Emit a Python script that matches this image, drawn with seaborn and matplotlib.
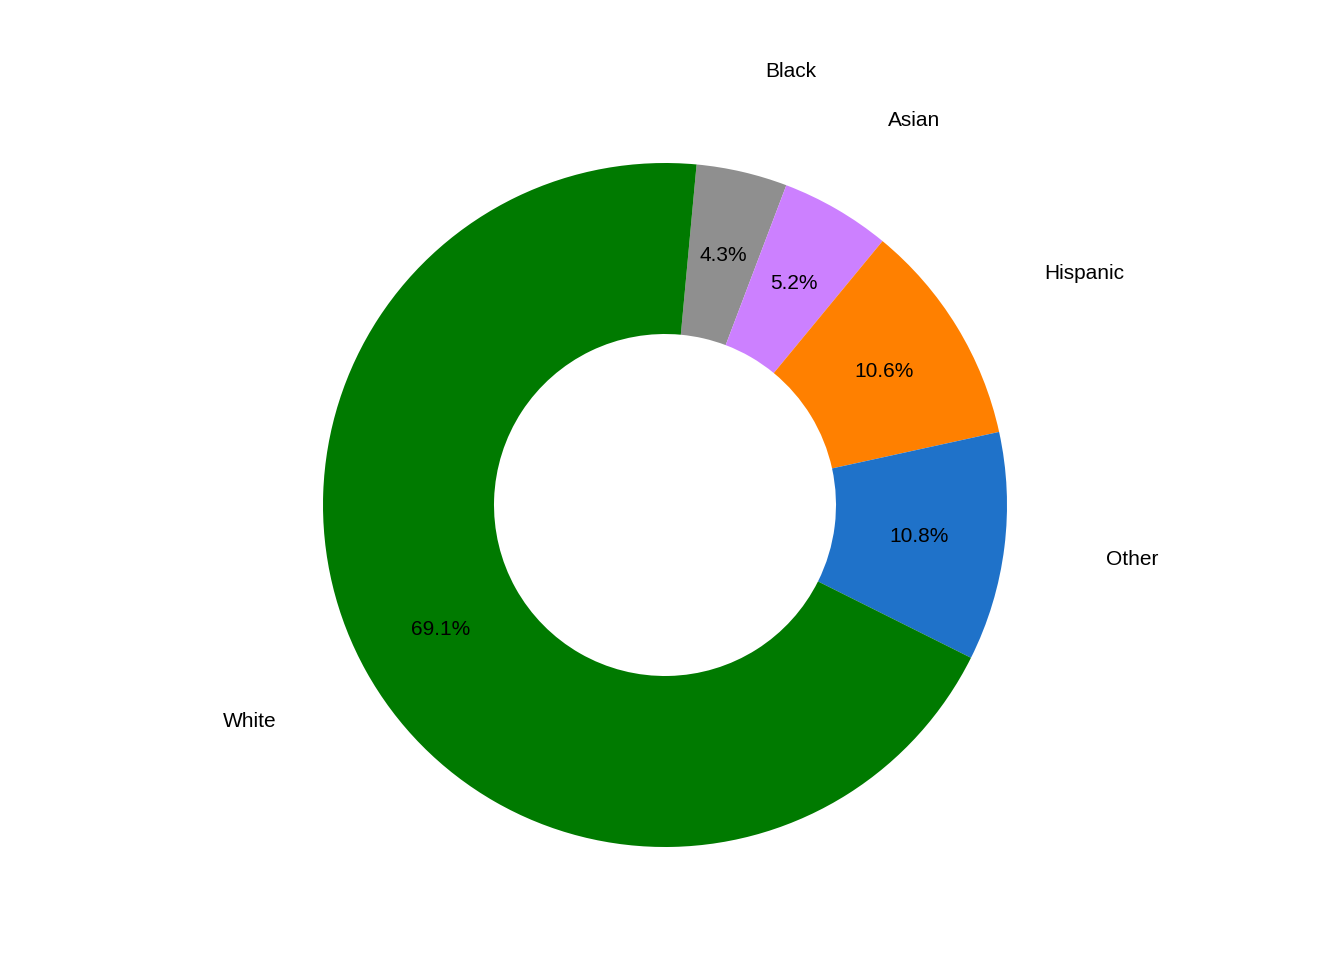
import matplotlib
matplotlib.use("Agg")
import matplotlib.pyplot as plt
import seaborn as sns

categories = ["Black", "Asian", "Hispanic", "Other", "White"]
values = [4.3, 5.2, 10.6, 10.8, 69.1]
colors = ["#8f8f8f", "#cc80ff", "#ff8000", "#1f72c9", "#007a00"]

sns.set_theme(style="white")
plt.rcParams["font.family"] = ["Liberation Sans", "DejaVu Sans"]

fig = plt.figure(figsize=(13.44, 9.6), dpi=100)
ax = fig.add_axes([0, 0, 1, 1])
ax.pie(values, labels=categories, colors=colors, startangle=84.7, counterclock=False,
       autopct="%.1f%%", pctdistance=0.75, labeldistance=1.3,
       wedgeprops=dict(width=0.5, linewidth=0),
       textprops=dict(fontsize=15, color="black"))
cx, cy, r = 665, 505, 342
ax.set_xlim(-cx / r, (1344 - cx) / r)
ax.set_ylim(-(960 - cy) / r, cy / r)
ax.set_aspect("equal")
ax.axis("off")
fig.savefig("out.png", dpi=100, facecolor="white")
